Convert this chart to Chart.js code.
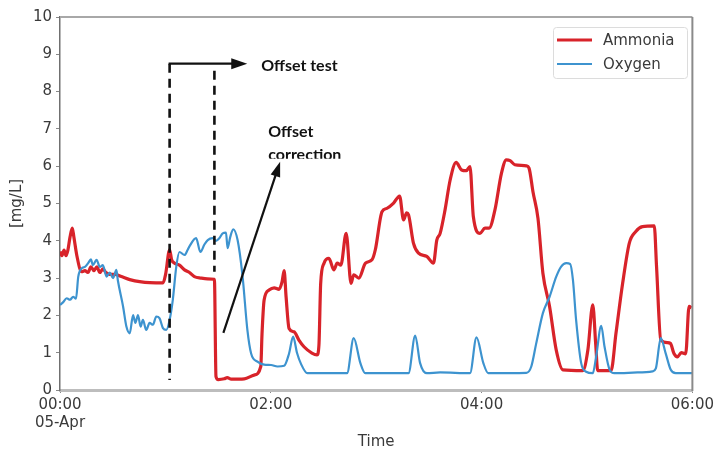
<!DOCTYPE html>
<html><head><meta charset="utf-8">
<script src="https://cdn.jsdelivr.net/npm/chart.js@4.4.1/dist/chart.umd.min.js"></script>
<style>html,body{margin:0;padding:0;background:#fff;}#wrap{width:717px;height:450px;}</style>
</head><body><div id="wrap"><canvas id="c" width="717" height="450"></canvas></div>
<script>
// ---- data (minutes after 00:00 on 05-Apr, values in mg/L) ----
const ammoniaMinutes = [0,1.1,2.3,3.4,4.5,5.7,7.0,7.9,9.6,12.3,14.2,15.9,17.6,19.3,21,22.7,24.4,26.1,28.3,31.2,35,39.7,46.3,51,58.6,60.1,62.4,63.5,65.2,68,70.9,73.7,76.5,80.3,83.9,87.9,88.8,90.1,93.5,95.2,97.5,104.9,110.5,114.3,115,116.2,119,121.9,124.7,126.4,127.6,128.7,130.4,133.2,136,138.9,143.4,146.3,147.4,148.4,150.3,153.1,155.9,157.8,159.9,162.9,165.7,167.2,170.1,173.9,177.6,179.5,183.3,186.1,189.9,193.3,195.6,197.3,198.4,201.2,204.1,208.8,212.6,214.5,216.4,219.2,222.1,225.5,228.6,231.3,233.4,235.3,239.1,241.9,244.3,247.6,251.3,254.1,256.2,258.9,265.5,267,269.3,272.1,274.9,278.7,282.5,286.3,297.6,300.5,303.3,305,306.1,313.7,316.5,320.3,324.1,327.8,331.6,338.3,339.6,342,345.8,347.5,349.5,351.5,353.7,356.2,358.1,359.5];
const ammoniaValues = [3.71,3.6,3.75,3.6,3.75,4.1,4.34,4.1,3.6,3.17,3.2,3.15,3.3,3.2,3.3,3.15,3.25,3.15,3.1,3.1,3.04,2.96,2.9,2.88,2.87,3.1,3.76,3.5,3.4,3.35,3.22,3.15,3.04,3.0,2.98,2.97,0.36,0.28,0.3,0.33,0.29,0.3,0.4,0.63,1.5,2.41,2.68,2.74,2.7,2.9,3.2,2.5,1.65,1.56,1.34,1.16,0.99,0.94,1.2,2.86,3.4,3.53,3.22,3.4,3.35,4.2,2.86,3.09,3.0,3.4,3.49,3.76,4.78,4.87,5.01,5.2,4.56,4.75,4.7,3.94,3.67,3.58,3.4,4.02,4.2,4.83,5.63,6.1,5.9,5.88,5.99,4.65,4.2,4.34,4.34,4.83,5.81,6.17,6.15,6.04,6.01,5.95,5.3,4.6,3.13,2.24,1.07,0.54,0.52,1.07,2.28,1.2,0.52,0.52,1.52,2.86,3.94,4.25,4.38,4.4,3.31,1.34,1.27,1.25,0.98,0.89,1.0,0.97,2.24,2.2];
const oxygenMinutes = [0,1.7,3.8,5.7,7.5,9.1,10.4,12.3,14.2,16,17.6,18.7,20.8,22.7,24.4,26.5,28.3,30.2,32.1,32.9,35.9,37.8,39.7,41.6,42.9,44.4,45.9,47.2,49.1,51,52.9,54.8,56.7,58.6,60.5,62.4,64.2,66.2,68,70.9,72.7,73.7,77.5,79.9,82.2,84.1,86.9,88.8,90.7,92.6,94.5,95.4,96.9,98.6,101.1,103.9,106.7,108.8,112.4,116.2,120.2,123.8,127.6,130.4,132.7,134.9,137.2,140.8,163.4,167.2,171,173.8,198.4,202.2,205,208.8,216.4,233.4,237.1,241,243.8,265.5,268.3,271.1,274.9,278.7,282.5,285.3,288.2,290.4,292,293.8,296.7,299.5,303.3,305.2,308.1,310,312.9,315.6,328.8,337.3,339.2,342,344.8,347.7,350.5,360];
const oxygenValues = [2.28,2.35,2.46,2.42,2.5,2.45,3.04,3.26,3.3,3.4,3.5,3.35,3.49,3.3,3.35,3.04,3.15,3.0,3.22,2.95,2.24,1.7,1.52,2.01,1.8,2.01,1.7,1.88,1.61,1.8,1.75,1.97,1.92,1.66,1.61,1.88,2.41,3.31,3.7,3.62,3.76,3.85,4.07,3.7,3.9,4.02,4.07,4.0,4.07,4.2,4.22,3.8,4.1,4.31,4.02,3.06,1.6,0.98,0.76,0.68,0.67,0.63,0.65,0.98,1.43,1.0,0.7,0.45,0.45,1.39,0.72,0.45,0.45,1.46,0.72,0.45,0.47,0.45,1.41,0.72,0.45,0.46,0.63,1.25,2.06,2.5,3.04,3.31,3.4,3.38,2.95,1.88,0.72,0.49,0.45,0.89,1.72,1.16,0.54,0.45,0.47,0.5,0.58,1.39,0.98,0.54,0.45,0.45];
const seriesNames = ['Ammonia','Oxygen'];
const xTickMinutes = [0,120,240,360];
const xTickLabels = [['00:00','05-Apr'],'02:00','04:00','06:00'];
const yTickValues = [0,1,2,3,4,5,6,7,8,9,10];
const xAxisTitle = 'Time';
const yAxisTitle = '[mg/L]';
const annotationTexts = ['Offset test','Offset','correction'];

// ---- annotation geometry in data units (minutes, mg/L) ----
const annot = {
  dashed: [{x:62.4,y1:8.75,y2:0.27},{x:87.9,y1:8.56,y2:3.17}],
  hArrow: {x1:62.4,x2:106.6,y:8.75},
  arrow2: {x1:93.0,y1:1.53,x2:125.3,y2:6.12},
  textTest: {x:114.5,y:8.7},
  textOffset: {x:118.5,y:6.93},
  textCorr: {x:118.5,y:6.31,clipY:6.2}
};

const TXT = '#3a3a3a';
const FONT = {family:'"DejaVu Sans"',size:15};

function arrowHead(ctx,x1,y1,x2,y2,len,half){
  const a=Math.atan2(y2-y1,x2-x1);
  ctx.beginPath();
  ctx.moveTo(x2,y2);
  ctx.lineTo(x2-len*Math.cos(a)+half*Math.sin(a), y2-len*Math.sin(a)-half*Math.cos(a));
  ctx.lineTo(x2-len*Math.cos(a)-half*Math.sin(a), y2-len*Math.sin(a)+half*Math.cos(a));
  ctx.closePath();ctx.fill();
}

const decor = {
  id:'decor',
  afterDatasetsDraw(chart){
    const ctx=chart.ctx, xs=chart.scales.x, ys=chart.scales.y, ca=chart.chartArea;
    ctx.save();
    // frame top/right
    ctx.strokeStyle='#a8a8a8';ctx.lineWidth=2;
    ctx.beginPath();ctx.moveTo(ca.left,ca.top);ctx.lineTo(ca.right,ca.top);ctx.stroke();
    ctx.strokeStyle='#8a8a8a';
    ctx.beginPath();ctx.moveTo(ca.right,ca.top);ctx.lineTo(ca.right,ca.bottom+1);ctx.stroke();
    // dashed lines
    ctx.strokeStyle='#111';ctx.lineWidth=2.6;ctx.setLineDash([9,6]);
    annot.dashed.forEach(d=>{
      ctx.beginPath();ctx.moveTo(xs.getPixelForValue(d.x),ys.getPixelForValue(d.y1));
      ctx.lineTo(xs.getPixelForValue(d.x),ys.getPixelForValue(d.y2));ctx.stroke();
    });
    ctx.setLineDash([]);
    // horizontal arrow
    const hx1=xs.getPixelForValue(annot.hArrow.x1), hx2=xs.getPixelForValue(annot.hArrow.x2), hy=ys.getPixelForValue(annot.hArrow.y);
    ctx.lineWidth=2.4;ctx.fillStyle='#111';
    ctx.beginPath();ctx.moveTo(hx1-1,hy);ctx.lineTo(hx2-10,hy);ctx.stroke();
    arrowHead(ctx,hx1,hy,hx2,hy,16,5.5);
    // diagonal arrow
    const ax1=xs.getPixelForValue(annot.arrow2.x1), ay1=ys.getPixelForValue(annot.arrow2.y1);
    const ax2=xs.getPixelForValue(annot.arrow2.x2), ay2=ys.getPixelForValue(annot.arrow2.y2);
    const ang=Math.atan2(ay2-ay1,ax2-ax1);
    ctx.lineWidth=2.2;
    ctx.beginPath();ctx.moveTo(ax1,ay1);ctx.lineTo(ax2-10*Math.cos(ang),ay2-10*Math.sin(ang));ctx.stroke();
    arrowHead(ctx,ax1,ay1,ax2,ay2,15,5);
    // texts
    ctx.fillStyle='#111';ctx.font='bold 16px Lato';ctx.textBaseline='middle';ctx.textAlign='left';
    ctx.fillText(annotationTexts[0],xs.getPixelForValue(annot.textTest.x),ys.getPixelForValue(annot.textTest.y));
    ctx.fillText(annotationTexts[1],xs.getPixelForValue(annot.textOffset.x),ys.getPixelForValue(annot.textOffset.y));
    ctx.save();
    ctx.beginPath();ctx.rect(0,0,chart.width,ys.getPixelForValue(annot.textCorr.clipY));ctx.clip();
    ctx.fillText(annotationTexts[2],xs.getPixelForValue(annot.textCorr.x),ys.getPixelForValue(annot.textCorr.y));
    ctx.restore();
    // legend
    const lx=553, ly=27, lw=134, lh=51;
    ctx.fillStyle='rgba(255,255,255,0.85)';ctx.strokeStyle='#dcdcdc';ctx.lineWidth=1;
    ctx.beginPath();ctx.roundRect(lx+0.5,ly+0.5,lw,lh,3);ctx.fill();ctx.stroke();
    chart.data.datasets.forEach((ds,i)=>{
      const yy=ly+13+i*24;
      ctx.strokeStyle=ds.borderColor;ctx.lineWidth=ds.borderWidth;
      ctx.beginPath();ctx.moveTo(lx+4,yy);ctx.lineTo(lx+39,yy);ctx.stroke();
      ctx.fillStyle=TXT;ctx.font='15px "DejaVu Sans"';ctx.textBaseline='middle';
      ctx.fillText(ds.label,lx+50,yy+1);
    });
    ctx.restore();
  }
};

new Chart(document.getElementById('c'),{
  type:'line',
  data:{datasets:[
    {label:seriesNames[0],order:1,data:ammoniaMinutes.map((m,i)=>({x:m,y:ammoniaValues[i]})),borderColor:'#d8232a',borderWidth:3.2,pointRadius:0,cubicInterpolationMode:'monotone'},
    {label:seriesNames[1],order:0,data:oxygenMinutes.map((m,i)=>({x:m,y:oxygenValues[i]})),borderColor:'#3d93cf',borderWidth:2.2,pointRadius:0,cubicInterpolationMode:'monotone'}
  ]},
  options:{
    responsive:false,animation:false,devicePixelRatio:1,
    layout:{padding:{top:17,right:22,left:0,bottom:0}},
    plugins:{legend:{display:false},tooltip:{enabled:false}},
    scales:{
      x:{type:'linear',min:0,max:360,
        afterBuildTicks(s){s.ticks=xTickMinutes.map(v=>({value:v}));},
        afterFit(s){s.height=60;},
        ticks:{autoSkip:false,maxRotation:0,padding:3,color:TXT,font:FONT,
          callback(v){const i=xTickMinutes.indexOf(v);return i>=0?xTickLabels[i]:'';}},
        grid:{display:true,drawOnChartArea:false,drawTicks:true,tickLength:3,color:'#888'},
        border:{display:true,color:'#bdbdbd',width:3},
        title:{display:true,text:xAxisTitle,color:TXT,font:{family:'"DejaVu Sans"',size:15,lineHeight:1},padding:{top:0,bottom:0.5}}
      },
      y:{type:'linear',min:0,max:10,
        afterBuildTicks(s){s.ticks=yTickValues.map(v=>({value:v}));},
        afterFit(s){s.width=60;},
        ticks:{padding:4,color:TXT,font:FONT},
        grid:{display:true,drawOnChartArea:false,drawTicks:true,tickLength:4,color:'#888'},
        border:{display:true,color:'#707070',width:1.5},
        title:{display:true,text:yAxisTitle,color:TXT,font:{family:'"DejaVu Sans"',size:15,lineHeight:1.2},padding:{top:8.5,bottom:0}}
      }
    }
  },
  plugins:[decor]
});
</script></body></html>
